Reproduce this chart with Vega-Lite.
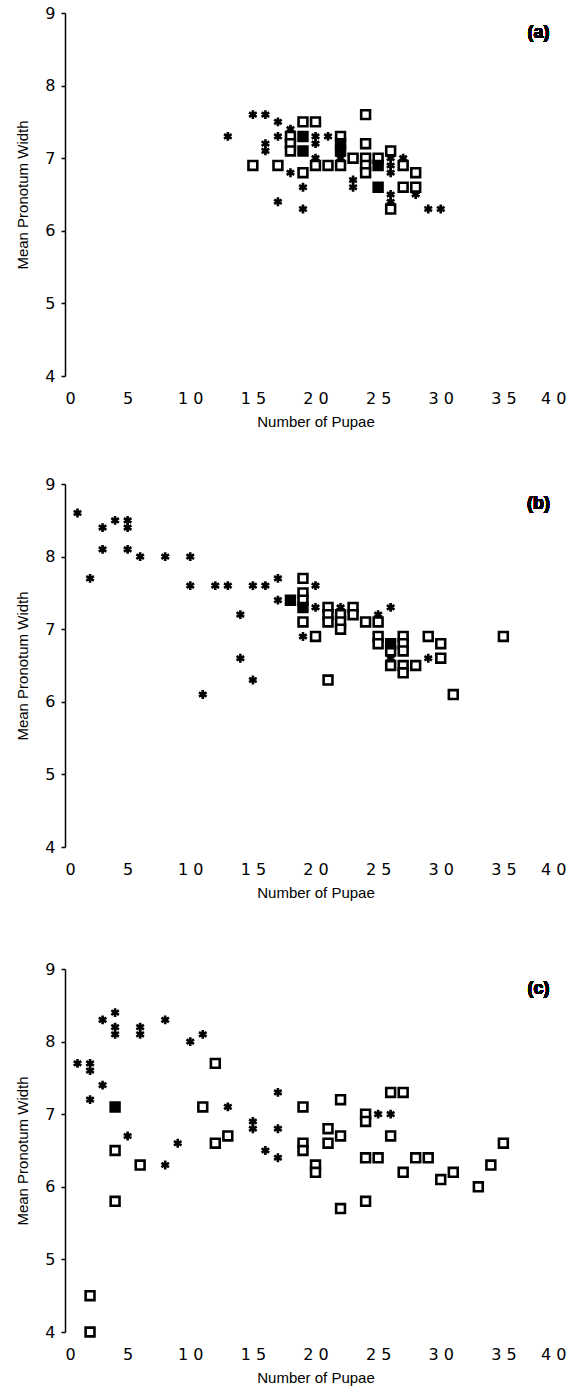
{
  "$schema": "https://vega.github.io/schema/vega-lite/v6.json",
  "padding": {"left": 15, "top": 5, "right": 5, "bottom": 5},
  "background": "white",
  "spacing": 61,
  "config": {
    "view": {"stroke": null},
    "axis": {
      "labelFont": "DejaVu Sans",
      "labelFontSize": 16,
      "labelColor": "black",
      "titleFont": "Liberation Sans",
      "titleFontSize": 15,
      "titleFontWeight": "normal",
      "titleColor": "black",
      "grid": false,
      "domainColor": "black",
      "domainWidth": 1.5,
      "tickColor": "black",
      "tickWidth": 1.5
    },
    "axisX": {"domain": false, "ticks": false, "labelPadding": 14, "titlePadding": 8},
    "axisY": {"tickSize": 4, "labelPadding": 6, "titlePadding": 14}
  },
  "datasets": {
    "pts": [
      {"panel":"a","type":"star","x":13,"y":7.3},{"panel":"a","type":"star","x":15,"y":7.6},{"panel":"a","type":"star","x":16,"y":7.6},{"panel":"a","type":"star","x":17,"y":7.5},{"panel":"a","type":"star","x":18,"y":7.4},{"panel":"a","type":"star","x":17,"y":7.3},{"panel":"a","type":"star","x":16,"y":7.2},{"panel":"a","type":"star","x":16,"y":7.1},{"panel":"a","type":"star","x":20,"y":7.3},{"panel":"a","type":"star","x":20,"y":7.2},{"panel":"a","type":"star","x":21,"y":7.3},{"panel":"a","type":"star","x":20,"y":7.0},{"panel":"a","type":"star","x":18,"y":6.8},{"panel":"a","type":"star","x":19,"y":6.6},{"panel":"a","type":"star","x":17,"y":6.4},{"panel":"a","type":"star","x":19,"y":6.3},{"panel":"a","type":"star","x":23,"y":6.7},{"panel":"a","type":"star","x":23,"y":6.6},{"panel":"a","type":"star","x":22,"y":7.0},{"panel":"a","type":"star","x":26,"y":7.0},{"panel":"a","type":"star","x":26,"y":6.9},{"panel":"a","type":"star","x":26,"y":6.8},{"panel":"a","type":"star","x":26,"y":6.5},{"panel":"a","type":"star","x":26,"y":6.4},{"panel":"a","type":"star","x":27,"y":7.0},{"panel":"a","type":"star","x":28,"y":6.5},{"panel":"a","type":"star","x":29,"y":6.3},{"panel":"a","type":"star","x":30,"y":6.3},
      {"panel":"a","type":"open","x":15,"y":6.9},{"panel":"a","type":"open","x":17,"y":6.9},{"panel":"a","type":"open","x":19,"y":7.5},{"panel":"a","type":"open","x":20,"y":7.5},{"panel":"a","type":"open","x":18,"y":7.3},{"panel":"a","type":"open","x":18,"y":7.2},{"panel":"a","type":"open","x":18,"y":7.1},{"panel":"a","type":"open","x":19,"y":6.8},{"panel":"a","type":"open","x":20,"y":6.9},{"panel":"a","type":"open","x":21,"y":6.9},{"panel":"a","type":"open","x":22,"y":6.9},{"panel":"a","type":"open","x":22,"y":7.3},{"panel":"a","type":"open","x":23,"y":7.0},{"panel":"a","type":"open","x":24,"y":7.6},{"panel":"a","type":"open","x":24,"y":7.2},{"panel":"a","type":"open","x":24,"y":7.0},{"panel":"a","type":"open","x":24,"y":6.9},{"panel":"a","type":"open","x":24,"y":6.8},{"panel":"a","type":"open","x":25,"y":7.0},{"panel":"a","type":"open","x":26,"y":7.1},{"panel":"a","type":"open","x":26,"y":6.3},{"panel":"a","type":"open","x":27,"y":6.9},{"panel":"a","type":"open","x":27,"y":6.6},{"panel":"a","type":"open","x":28,"y":6.8},{"panel":"a","type":"open","x":28,"y":6.6},
      {"panel":"a","type":"filled","x":19,"y":7.3},{"panel":"a","type":"filled","x":19,"y":7.1},{"panel":"a","type":"filled","x":22,"y":7.2},{"panel":"a","type":"filled","x":22,"y":7.1},{"panel":"a","type":"filled","x":25,"y":6.9},{"panel":"a","type":"filled","x":25,"y":6.6},
      {"panel":"b","type":"star","x":1,"y":8.6},{"panel":"b","type":"star","x":2,"y":7.7},{"panel":"b","type":"star","x":3,"y":8.4},{"panel":"b","type":"star","x":3,"y":8.1},{"panel":"b","type":"star","x":4,"y":8.5},{"panel":"b","type":"star","x":5,"y":8.5},{"panel":"b","type":"star","x":5,"y":8.4},{"panel":"b","type":"star","x":5,"y":8.1},{"panel":"b","type":"star","x":6,"y":8.0},{"panel":"b","type":"star","x":8,"y":8.0},{"panel":"b","type":"star","x":10,"y":8.0},{"panel":"b","type":"star","x":10,"y":7.6},{"panel":"b","type":"star","x":12,"y":7.6},{"panel":"b","type":"star","x":13,"y":7.6},{"panel":"b","type":"star","x":15,"y":7.6},{"panel":"b","type":"star","x":16,"y":7.6},{"panel":"b","type":"star","x":17,"y":7.7},{"panel":"b","type":"star","x":17,"y":7.4},{"panel":"b","type":"star","x":14,"y":7.2},{"panel":"b","type":"star","x":14,"y":6.6},{"panel":"b","type":"star","x":15,"y":6.3},{"panel":"b","type":"star","x":11,"y":6.1},{"panel":"b","type":"star","x":19,"y":6.9},{"panel":"b","type":"star","x":20,"y":7.6},{"panel":"b","type":"star","x":20,"y":7.3},{"panel":"b","type":"star","x":22,"y":7.3},{"panel":"b","type":"star","x":25,"y":7.2},{"panel":"b","type":"star","x":26,"y":7.3},{"panel":"b","type":"star","x":26,"y":6.6},{"panel":"b","type":"star","x":29,"y":6.6},
      {"panel":"b","type":"open","x":19,"y":7.7},{"panel":"b","type":"open","x":19,"y":7.5},{"panel":"b","type":"open","x":19,"y":7.4},{"panel":"b","type":"open","x":19,"y":7.1},{"panel":"b","type":"open","x":20,"y":6.9},{"panel":"b","type":"open","x":21,"y":7.3},{"panel":"b","type":"open","x":21,"y":7.2},{"panel":"b","type":"open","x":21,"y":7.1},{"panel":"b","type":"open","x":21,"y":6.3},{"panel":"b","type":"open","x":22,"y":7.2},{"panel":"b","type":"open","x":22,"y":7.1},{"panel":"b","type":"open","x":22,"y":7.0},{"panel":"b","type":"open","x":23,"y":7.3},{"panel":"b","type":"open","x":23,"y":7.2},{"panel":"b","type":"open","x":24,"y":7.1},{"panel":"b","type":"open","x":25,"y":7.1},{"panel":"b","type":"open","x":25,"y":6.9},{"panel":"b","type":"open","x":25,"y":6.8},{"panel":"b","type":"open","x":26,"y":6.7},{"panel":"b","type":"open","x":26,"y":6.5},{"panel":"b","type":"open","x":27,"y":6.9},{"panel":"b","type":"open","x":27,"y":6.8},{"panel":"b","type":"open","x":27,"y":6.7},{"panel":"b","type":"open","x":27,"y":6.5},{"panel":"b","type":"open","x":27,"y":6.4},{"panel":"b","type":"open","x":28,"y":6.5},{"panel":"b","type":"open","x":29,"y":6.9},{"panel":"b","type":"open","x":30,"y":6.8},{"panel":"b","type":"open","x":30,"y":6.6},{"panel":"b","type":"open","x":31,"y":6.1},{"panel":"b","type":"open","x":35,"y":6.9},
      {"panel":"b","type":"filled","x":18,"y":7.4},{"panel":"b","type":"filled","x":19,"y":7.3},{"panel":"b","type":"filled","x":26,"y":6.8},
      {"panel":"c","type":"star","x":1,"y":7.7},{"panel":"c","type":"star","x":2,"y":7.7},{"panel":"c","type":"star","x":2,"y":7.6},{"panel":"c","type":"star","x":2,"y":7.2},{"panel":"c","type":"star","x":3,"y":7.4},{"panel":"c","type":"star","x":3,"y":8.3},{"panel":"c","type":"star","x":4,"y":8.4},{"panel":"c","type":"star","x":4,"y":8.2},{"panel":"c","type":"star","x":4,"y":8.1},{"panel":"c","type":"star","x":5,"y":6.7},{"panel":"c","type":"star","x":6,"y":8.2},{"panel":"c","type":"star","x":6,"y":8.1},{"panel":"c","type":"star","x":8,"y":8.3},{"panel":"c","type":"star","x":8,"y":6.3},{"panel":"c","type":"star","x":9,"y":6.6},{"panel":"c","type":"star","x":10,"y":8.0},{"panel":"c","type":"star","x":11,"y":8.1},{"panel":"c","type":"star","x":13,"y":7.1},{"panel":"c","type":"star","x":15,"y":6.9},{"panel":"c","type":"star","x":15,"y":6.8},{"panel":"c","type":"star","x":16,"y":6.5},{"panel":"c","type":"star","x":17,"y":7.3},{"panel":"c","type":"star","x":17,"y":6.8},{"panel":"c","type":"star","x":17,"y":6.4},{"panel":"c","type":"star","x":25,"y":7.0},{"panel":"c","type":"star","x":26,"y":7.0},
      {"panel":"c","type":"open","x":2,"y":4.5},{"panel":"c","type":"open","x":2,"y":4.0},{"panel":"c","type":"open","x":4,"y":6.5},{"panel":"c","type":"open","x":4,"y":5.8},{"panel":"c","type":"open","x":6,"y":6.3},{"panel":"c","type":"open","x":11,"y":7.1},{"panel":"c","type":"open","x":12,"y":7.7},{"panel":"c","type":"open","x":12,"y":6.6},{"panel":"c","type":"open","x":13,"y":6.7},{"panel":"c","type":"open","x":19,"y":7.1},{"panel":"c","type":"open","x":19,"y":6.6},{"panel":"c","type":"open","x":19,"y":6.5},{"panel":"c","type":"open","x":20,"y":6.3},{"panel":"c","type":"open","x":20,"y":6.2},{"panel":"c","type":"open","x":21,"y":6.8},{"panel":"c","type":"open","x":21,"y":6.6},{"panel":"c","type":"open","x":22,"y":7.2},{"panel":"c","type":"open","x":22,"y":6.7},{"panel":"c","type":"open","x":22,"y":5.7},{"panel":"c","type":"open","x":24,"y":7.0},{"panel":"c","type":"open","x":24,"y":6.9},{"panel":"c","type":"open","x":24,"y":6.4},{"panel":"c","type":"open","x":24,"y":5.8},{"panel":"c","type":"open","x":25,"y":6.4},{"panel":"c","type":"open","x":26,"y":7.3},{"panel":"c","type":"open","x":26,"y":6.7},{"panel":"c","type":"open","x":27,"y":7.3},{"panel":"c","type":"open","x":27,"y":6.2},{"panel":"c","type":"open","x":28,"y":6.4},{"panel":"c","type":"open","x":29,"y":6.4},{"panel":"c","type":"open","x":30,"y":6.1},{"panel":"c","type":"open","x":31,"y":6.2},{"panel":"c","type":"open","x":33,"y":6.0},{"panel":"c","type":"open","x":34,"y":6.3},{"panel":"c","type":"open","x":35,"y":6.6},
      {"panel":"c","type":"filled","x":4,"y":7.1}
    ]
  },
  "vconcat": [
    {
      "spacing": 47,
      "vconcat": [
        {
          "width": 501, "height": 363,
          "data": {"name": "pts"},
          "layer": [
            {
              "transform": [{"filter": "datum.panel === 'a'"}],
              "mark": {"type": "point", "filled": true, "stroke": "black", "strokeWidth": 2.6, "size": 78, "opacity": 1},
              "encoding": {
                "x": {"field": "x", "type": "quantitative", "scale": {"domain": [0, 40], "nice": false}, "axis": {"title": "Number of Pupae", "values": [0,5,10,15,20,25,30,35,40], "labelExpr": "join(split(datum.label, ''), ' ')"}},
                "y": {"field": "y", "type": "quantitative", "scale": {"domain": [4, 9], "nice": false, "zero": false}, "axis": {"title": "Mean Pronotum Width", "values": [4,5,6,7,8,9], "format": "d"}},
                "shape": {"field": "type", "type": "nominal", "scale": {"domain": ["open", "filled", "star"], "range": ["square", "square", "M0,-1V1M-0.866,-0.5L0.866,0.5M-0.866,0.5L0.866,-0.5"]}, "legend": null},
                "fill": {"field": "type", "type": "nominal", "scale": {"domain": ["open", "filled", "star"], "range": ["white", "black", "black"]}, "legend": null}
              }
            },
            {
              "mark": {"type": "text", "font": "Liberation Sans", "fontWeight": "bold", "fontSize": 18, "color": "black"},
              "encoding": {"x": {"datum": 37.8}, "y": {"datum": 8.72}, "text": {"value": "(a)"}}
            }
          ]
        },
        {
          "width": 501, "height": 363,
          "data": {"name": "pts"},
          "layer": [
            {
              "transform": [{"filter": "datum.panel === 'b'"}],
              "mark": {"type": "point", "filled": true, "stroke": "black", "strokeWidth": 2.6, "size": 78, "opacity": 1},
              "encoding": {
                "x": {"field": "x", "type": "quantitative", "scale": {"domain": [0, 40], "nice": false}, "axis": {"title": "Number of Pupae", "values": [0,5,10,15,20,25,30,35,40], "labelExpr": "join(split(datum.label, ''), ' ')"}},
                "y": {"field": "y", "type": "quantitative", "scale": {"domain": [4, 9], "nice": false, "zero": false}, "axis": {"title": "Mean Pronotum Width", "values": [4,5,6,7,8,9], "format": "d"}},
                "shape": {"field": "type", "type": "nominal", "scale": {"domain": ["open", "filled", "star"], "range": ["square", "square", "M0,-1V1M-0.866,-0.5L0.866,0.5M-0.866,0.5L0.866,-0.5"]}, "legend": null},
                "fill": {"field": "type", "type": "nominal", "scale": {"domain": ["open", "filled", "star"], "range": ["white", "black", "black"]}, "legend": null}
              }
            },
            {
              "mark": {"type": "text", "font": "Liberation Sans", "fontWeight": "bold", "fontSize": 18, "color": "black"},
              "encoding": {"x": {"datum": 37.8}, "y": {"datum": 8.72}, "text": {"value": "(b)"}}
            }
          ]
        }
      ]
    },
    {
      "width": 501, "height": 363,
      "data": {"name": "pts"},
      "layer": [
        {
          "transform": [{"filter": "datum.panel === 'c'"}],
          "mark": {"type": "point", "filled": true, "stroke": "black", "strokeWidth": 2.6, "size": 78, "opacity": 1},
          "encoding": {
            "x": {"field": "x", "type": "quantitative", "scale": {"domain": [0, 40], "nice": false}, "axis": {"title": "Number of Pupae", "values": [0,5,10,15,20,25,30,35,40], "labelExpr": "join(split(datum.label, ''), ' ')"}},
            "y": {"field": "y", "type": "quantitative", "scale": {"domain": [4, 9], "nice": false, "zero": false}, "axis": {"title": "Mean Pronotum Width", "values": [4,5,6,7,8,9], "format": "d"}},
            "shape": {"field": "type", "type": "nominal", "scale": {"domain": ["open", "filled", "star"], "range": ["square", "square", "M0,-1V1M-0.866,-0.5L0.866,0.5M-0.866,0.5L0.866,-0.5"]}, "legend": null},
            "fill": {"field": "type", "type": "nominal", "scale": {"domain": ["open", "filled", "star"], "range": ["white", "black", "black"]}, "legend": null}
          }
        },
        {
          "mark": {"type": "text", "font": "Liberation Sans", "fontWeight": "bold", "fontSize": 18, "color": "black"},
          "encoding": {"x": {"datum": 37.8}, "y": {"datum": 8.72}, "text": {"value": "(c)"}}
        }
      ]
    }
  ]
}
